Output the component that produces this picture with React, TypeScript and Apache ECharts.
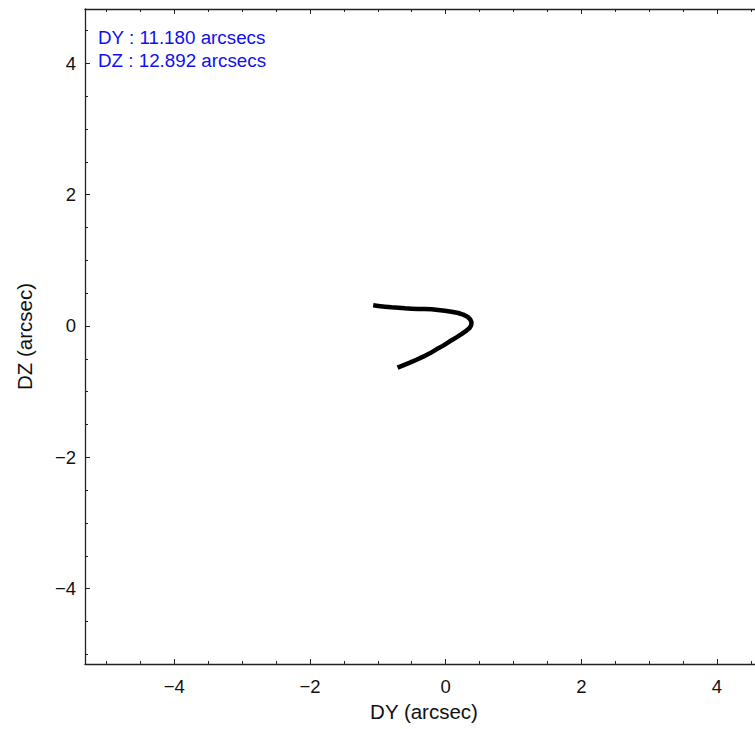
import React, { useEffect, useRef } from "react";
import * as echarts from "echarts";

const FONT = '"Liberation Sans", Arial, Helvetica, sans-serif';

// Trajectory DY / DZ (arcsec)
const dyValues = [
  -1.068, -0.994, -0.896, -0.798, -0.699, -0.601, -0.503, -0.405, -0.306, -0.208,
  -0.110, -0.012, 0.086, 0.185, 0.258, 0.322, 0.361, 0.381, 0.376, 0.352,
  0.307, 0.244, 0.160, 0.062, -0.036, -0.135, -0.233, -0.331, -0.429, -0.527,
  -0.626, -0.709,
];
const dzValues = [
  0.315, 0.305, 0.294, 0.284, 0.279, 0.269, 0.264, 0.259, 0.259, 0.254,
  0.244, 0.233, 0.218, 0.198, 0.173, 0.142, 0.102, 0.056, 0.010, -0.030,
  -0.071, -0.117, -0.173, -0.233, -0.299, -0.355, -0.416, -0.467, -0.513, -0.558,
  -0.599, -0.634,
];

const majorTicks = [-4, -2, 0, 2, 4];
const xMinorTicks = [-5, -4.5, -3.5, -3, -2.5, -1.5, -1, -0.5, 0.5, 1, 1.5, 2.5, 3, 3.5, 4.5];
const yMinorTicks = [-5, -4.5, -3.5, -3, -2.5, -1.5, -1, -0.5, 0.5, 1, 1.5, 2.5, 3, 3.5, 4.5];

const legendLines = ["DY : 11.180 arcsecs", "DZ : 12.892 arcsecs"];

const X_MIN = -5.316;
const X_MAX = 4.56;
const Y_MIN = -5.147;
const Y_MAX = 4.827;

const fmt = (v: number) => (v < 0 ? "\u2212" + Math.abs(v) : String(v));

export default function App() {
  const ref = useRef<HTMLDivElement>(null);

  useEffect(() => {
    if (!ref.current) return;
    const chart = echarts.init(ref.current, null, { renderer: "svg" });
    const lineColor = "#222";
    const axisBase = {
      type: "value" as const,
      min: X_MIN,
      max: X_MAX,
      splitLine: { show: false },
    };
    const yBase = {
      type: "value" as const,
      min: Y_MIN,
      max: Y_MAX,
      splitLine: { show: false },
    };
    chart.setOption({
      animation: false,
      backgroundColor: "#ffffff",
      grid: { left: 85, top: 9, right: 0, bottom: 65, containLabel: false },
      xAxis: [
        {
          ...axisBase,
          position: "bottom",
          axisLine: { show: true, onZero: false, lineStyle: { color: lineColor, width: 1.3 } },
          axisTick: { show: true, inside: true, length: 5, customValues: majorTicks, lineStyle: { color: lineColor } },
          axisLabel: {
            show: true,
            customValues: majorTicks,
            formatter: fmt,
            margin: 13,
            fontSize: 18.5,
            fontFamily: FONT,
            color: "#111",
          },
          name: "DY (arcsec)",
          nameLocation: "middle",
          nameGap: 37,
          nameTextStyle: { fontSize: 20.5, fontFamily: FONT, color: "#111", padding: [0, 0, 0, 8] },
        },
        {
          ...axisBase,
          position: "bottom",
          axisLine: { show: false, onZero: false },
          axisTick: { show: true, inside: true, length: 3, customValues: xMinorTicks, lineStyle: { color: lineColor } },
          axisLabel: { show: false },
        },
        {
          ...axisBase,
          position: "top",
          axisLine: { show: true, onZero: false, lineStyle: { color: lineColor, width: 1.3 } },
          axisTick: { show: true, inside: true, length: 5, customValues: majorTicks, lineStyle: { color: lineColor } },
          axisLabel: { show: false },
        },
        {
          ...axisBase,
          position: "top",
          axisLine: { show: false, onZero: false },
          axisTick: { show: true, inside: true, length: 3, customValues: xMinorTicks, lineStyle: { color: lineColor } },
          axisLabel: { show: false },
        },
      ],
      yAxis: [
        {
          ...yBase,
          position: "left",
          axisLine: { show: true, onZero: false, lineStyle: { color: lineColor, width: 1.3 } },
          axisTick: { show: true, inside: true, length: 5, customValues: majorTicks, lineStyle: { color: lineColor } },
          axisLabel: {
            show: true,
            customValues: majorTicks,
            formatter: fmt,
            margin: 9,
            fontSize: 18.5,
            fontFamily: FONT,
            color: "#111",
          },
          name: "DZ (arcsec)",
          nameLocation: "middle",
          nameGap: 50,
          nameRotate: 90,
          nameTextStyle: { fontSize: 20.5, fontFamily: FONT, color: "#111" },
        },
        {
          ...yBase,
          position: "left",
          axisLine: { show: false, onZero: false },
          axisTick: { show: true, inside: true, length: 3, customValues: yMinorTicks, lineStyle: { color: lineColor } },
          axisLabel: { show: false },
        },
      ],
      graphic: legendLines.map((t, i) => ({
        type: "text",
        left: 98,
        top: 27.5 + i * 23.5,
        style: {
          text: t,
          fill: "#1010f0",
          fontSize: 18.8,
          fontFamily: FONT,
        },
      })),
      series: [
        {
          type: "line",
          xAxisIndex: 0,
          yAxisIndex: 0,
          data: dyValues.map((x, i) => [x, dzValues[i]]),
          showSymbol: false,
          symbol: "none",
          smooth: false,
          lineStyle: { color: "#000", width: 4.5, join: "round", cap: "butt" },
          clip: true,
        },
      ],
    });
    return () => chart.dispose();
  }, []);

  return (
    <div
      ref={ref}
      style={{ position: "fixed", left: 0, top: 0, width: 755, height: 729, background: "#fff" }}
    />
  );
}
